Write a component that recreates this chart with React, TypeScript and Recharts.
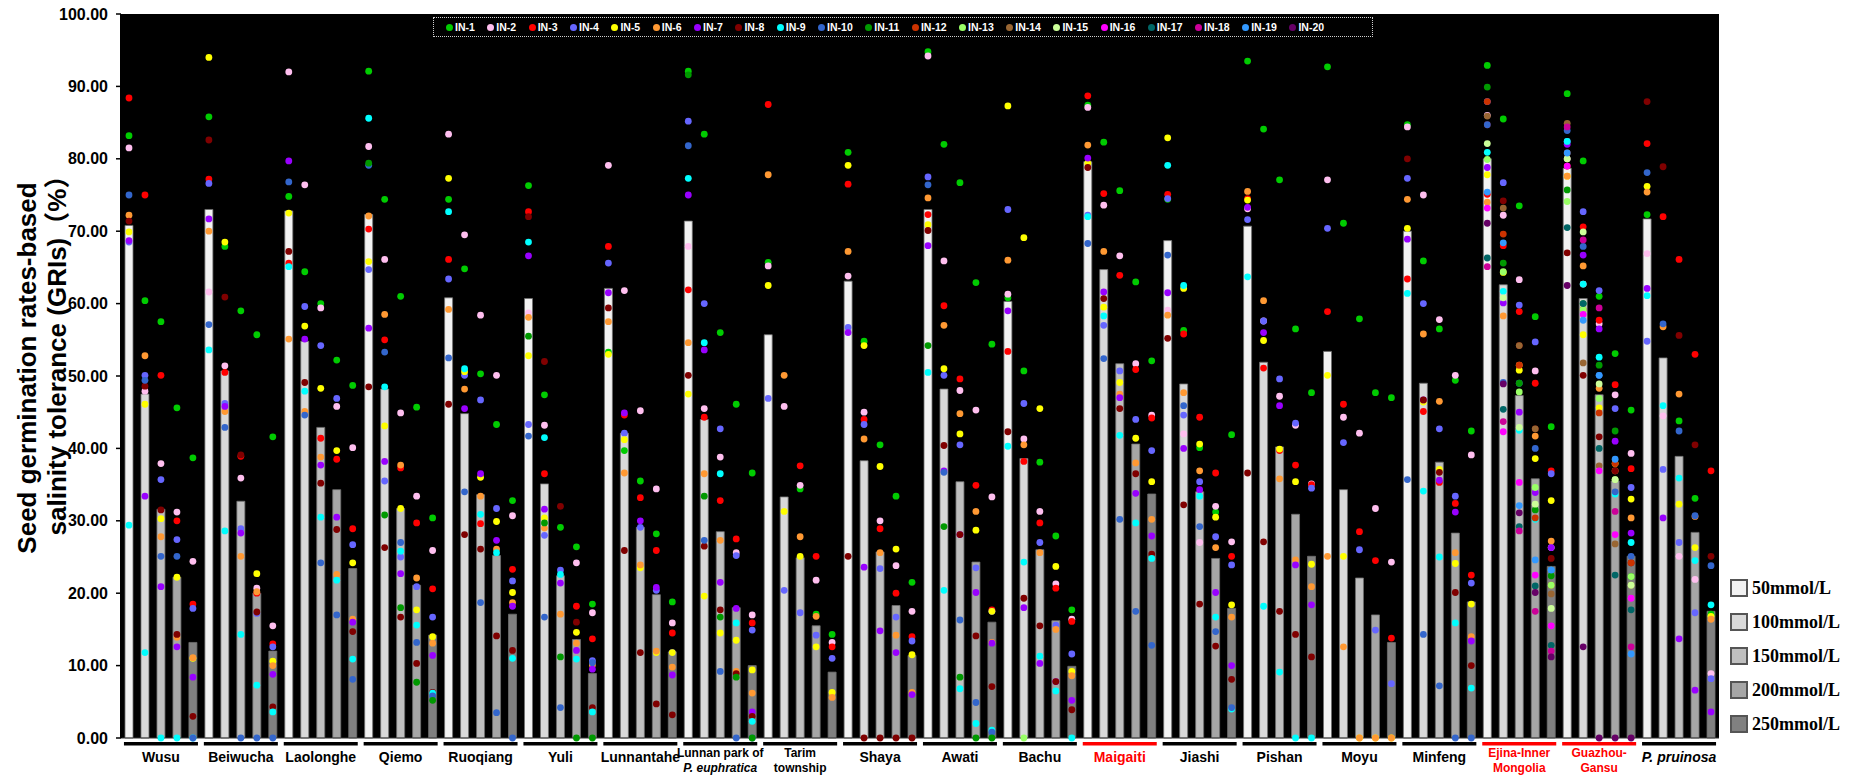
import { ComposedChart, Bar, Scatter, XAxis, YAxis, CartesianGrid, Cell } from 'recharts';

const FONT = "'Liberation Sans', Arial, 'Noto Sans CJK SC', sans-serif";
const SERIF = "'Liberation Serif', 'Times New Roman', serif";

const SITES = [
  'Wusu', 'Beiwucha', 'Laolonghe', 'Qiemo', 'Ruoqiang', 'Yuli', 'Lunnantahe',
  'Lunnan park of P. euphratica', 'Tarim township', 'Shaya', 'Awati', 'Bachu', 'Maigaiti',
  'Jiashi', 'Pishan', 'Moyu', 'Minfeng', 'Ejina-Inner Mongolia', 'Guazhou-Gansu', 'P. pruinosa',
];
// how each site name breaks under the axis
const SITE_LINES: string[][] = [
  ['Wusu'], ['Beiwucha'], ['Laolonghe'], ['Qiemo'], ['Ruoqiang'], ['Yuli'], ['Lunnantahe'],
  ['Lunnan park of', 'P. euphratica'], ['Tarim', 'township'], ['Shaya'], ['Awati'], ['Bachu'],
  ['Maigaiti'], ['Jiashi'], ['Pishan'], ['Moyu'], ['Minfeng'], ['Ejina-Inner', 'Mongolia'],
  ['Guazhou-', 'Gansu'], ['P. pruinosa'],
];
const ITALIC_LINES = ['P. euphratica', 'P. pruinosa'];
const RED_SITES = [12, 17, 18];

const CONCS = ['50mmol/L', '100mmol/L', '150mmol/L', '200mmol/L', '250mmol/L'];
const CONC_COLORS = ['#f2f2f2', '#d9d9d9', '#bfbfbf', '#a6a6a6', '#808080'];

const IN_NAMES = Array.from({ length: 20 }, (_, i) => `IN-${i + 1}`);
const IN_COLORS = [
  '#00cc00', '#ffbfef', '#ff0000', '#6666ff', '#ffff00', '#ff9933', '#9900ff', '#800000', '#00ffff', '#3366cc',
  '#009900', '#cc3300', '#99ff66', '#996633', '#ccff99', '#ff00ff', '#006666', '#cc0099', '#3399ff', '#660066',
];

const Y_TICKS = [0, 10, 20, 30, 40, 50, 60, 70, 80, 90, 100];

// mean GRI per site, 50 -> 250 mmol/L
const GRI: number[][] = [
  [70.8, 47.5, 31.6, 22.2, 13.2],
  [73.0, 50.7, 32.7, 20.0, 12.0],
  [72.8, 54.8, 42.9, 34.3, 23.4],
  [72.3, 48.2, 31.7, 21.1, 14.2],
  [60.8, 44.8, 33.6, 25.2, 17.1],
  [60.7, 35.1, 22.4, 13.6, 8.9],
  [62.1, 42.1, 29.1, 19.8, 11.9],
  [71.4, 44.0, 28.5, 18.0, 10.0],
  [55.7, 33.3, 24.9, 15.5, 9.1],
  [63.1, 38.3, 25.7, 18.3, 11.4],
  [73.0, 48.2, 35.4, 24.3, 16.0],
  [60.3, 38.6, 26.0, 16.2, 9.9],
  [79.6, 64.7, 51.7, 40.6, 33.7],
  [68.7, 48.9, 34.0, 24.8, 17.9],
  [70.7, 51.9, 40.2, 30.9, 25.1],
  [53.4, 34.3, 22.1, 17.0, 13.2],
  [70.0, 49.0, 38.1, 28.3, 18.8],
  [80.0, 62.6, 47.3, 35.8, 23.7],
  [78.7, 60.7, 47.4, 35.5, 25.1],
  [71.7, 52.5, 38.9, 28.4, 17.5],
];

// individual values: one row per concentration, one entry per individual (IN-1, IN-2, ...)
const DOTS_WUSU = [
  [83.2, 81.5, 88.4, 68.5, 69.9, 72.2, 68.7, 71.4, 29.4, 75.0],
  [60.4, 47.9, 75.0, 50.1, 46.1, 52.8, 33.4, 48.6, 11.8, 49.4],
  [57.5, 37.9, 50.1, 35.7, 30.3, 27.8, 20.9, 31.5, 0, 25.1],
  [45.6, 31.2, 30.0, 27.4, 22.2, 13.9, 12.6, 14.3, 0, 25.1],
  [38.7, 24.4, 18.5, 17.9, 11.0, 11.1, 8.4, 3.0, 0, 0],
];
const DOTS_BEIWUCHA = [
  [85.8, 61.6, 77.2, 76.6, 94.0, 70.0, 71.7, 82.6, 53.6, 57.1],
  [67.9, 51.4, 50.5, 46.2, 68.5, 45.1, 45.8, 60.9, 28.6, 42.9],
  [59.0, 35.9, 38.9, 28.9, null, 25.1, 28.3, 39.1, 14.3, 0],
  [55.7, 20.7, 20.0, 17.2, 22.7, 20.2, null, 17.4, 7.3, 0],
  [41.6, 15.5, 13.0, 12.6, 10.6, 10.0, 8.8, 4.3, 3.6, 0],
];
const DOTS_LAOLONGHE = [
  [74.8, 92.0, 65.6, null, 72.5, 55.1, 79.7, 67.2, 65.1, 76.8],
  [64.4, 76.4, null, 59.6, 56.9, 45.1, 55.1, 49.1, 47.9, 44.6],
  [60.0, 59.4, 41.4, 54.2, 48.3, 38.8, 37.7, 35.2, 30.5, 24.2],
  [52.2, 45.8, 38.5, 46.9, 39.7, 22.6, 30.5, 28.8, 21.8, 17.0],
  [48.7, 40.1, 28.9, 26.7, 24.2, 16.4, 16.0, 14.7, 10.9, 8.1],
];
const DOTS_QIEMO = [
  [92.1, 81.7, 70.3, 64.7, 65.8, 72.1, 56.6, 48.5, 85.6, 79.1, 79.4],
  [74.4, 66.1, 55.0, 35.5, 43.1, 58.5, 38.2, 26.3, 48.5, 53.3, 30.8],
  [61.0, 44.9, 37.3, 25.0, 31.7, 37.7, 22.7, 16.7, 25.8, 27.0, 18.0],
  [45.7, 33.4, 29.7, 20.9, 17.7, 22.1, null, 10.3, 15.6, 13.2, 7.7],
  [30.4, 25.9, 20.6, 16.7, 14.0, 13.1, 11.4, 6.3, 6.2, 5.8, 5.2],
];
const DOTS_RUOQIANG = [
  [74.4, 83.4, 66.1, 63.4, 77.3, 59.2, null, 46.1, 72.7, 52.5],
  [64.8, 69.5, null, 50.1, 50.6, 48.2, 45.5, 28.1, 51.0, 34.0],
  [50.3, 58.4, 29.6, 46.7, 36.0, 33.4, 36.5, 26.1, 30.9, 18.7],
  [43.3, 50.1, null, 31.7, 29.9, 26.1, 27.3, 14.1, 25.6, 3.5],
  [32.8, 30.7, 23.3, 21.7, 20.1, 18.7, 18.2, 12.1, 11.0, 0],
];
const DOTS_YULI = [
  [76.3, 58.7, 72.7, 43.3, 52.8, 58.1, 66.6, 72.0, 68.5, 41.7, 55.5],
  [47.4, 43.2, 36.5, 28.0, 30.4, 29.0, 31.6, 52.0, 41.5, 16.7, 29.7],
  [29.1, null, null, 23.2, null, 17.1, 21.4, 32.0, 22.6, 4.2, 11.2],
  [26.4, 24.2, 18.2, null, 14.6, 13.1, 12.1, 16.0, 10.9, null, 0],
  [18.5, 17.3, 13.7, 10.7, null, 10.1, 9.5, 4.2, 3.6, 10.4, 0],
];
const DOTS_LUNNANTAHE = [
  [53.3, 79.1, 67.9, 65.6, 53.0, 57.5, 61.5, 59.4],
  [39.7, 61.8, 44.6, 42.1, 41.2, 36.6, 44.9, 25.9],
  [35.5, 45.2, 33.2, 29.1, 23.5, 23.9, 30.0, 11.8],
  [28.2, 34.4, 25.9, 20.4, 11.8, 12.0, 20.8, 4.7],
  [18.8, 15.9, 14.5, 11.8, 11.8, 9.8, 8.7, 3.2],
];
const DOTS_LUNNAN_PARK = [
  [92.1, 67.9, 61.9, 85.2, 47.5, 54.6, 75.0, 50.1, 77.3, 81.8, 91.6],
  [83.4, 45.5, 44.3, 60.0, 19.6, 36.5, 53.6, 26.5, 54.6, 27.3, 33.4],
  [56.0, 38.8, 32.8, 42.7, 14.5, 27.3, 21.5, 17.7, 36.5, 9.2, 16.7],
  [46.1, 25.6, 27.5, 25.2, 13.5, 9.2, 17.9, 8.9, 15.9, 0, 8.4],
  [36.6, 17.0, 15.9, 14.9, 9.4, 6.2, 3.6, 3.0, 2.3, 0, 0],
];
const DOTS_TARIM = [
  [65.7, 65.2, 87.5, 46.9, 62.5, 77.8],
  [null, 45.8, null, 20.4, 31.3, 50.1],
  [34.4, 34.9, 37.6, 17.3, 25.1, 27.8],
  [17.1, 21.8, 25.1, 14.2, 12.6, 16.8],
  [14.3, 13.2, 12.6, 11.0, 6.3, 5.6],
];
const DOTS_SHAYA = [
  [80.9, 63.8, 76.5, 56.7, 79.1, 67.2, 56.0, 25.1],
  [54.8, 45.0, 44.0, 43.3, 54.2, 41.3, 23.6, 0],
  [40.5, 30.0, 28.9, 23.4, 37.5, 25.6, 14.8, 0],
  [33.4, 23.8, 20.0, 16.7, 26.1, 14.2, 11.8, 0],
  [21.5, 17.5, 14.0, 13.4, 11.5, 6.3, 6.0, 0],
];
const DOTS_AWATI = [
  [94.8, 94.2, 72.3, 77.5, 70.9, 74.6, 68.0, 70.1, 50.5, 76.4, 54.2],
  [82.0, 65.9, 59.7, 50.1, 51.0, 57.0, 36.9, 40.4, 20.4, 36.7, 29.2],
  [76.7, 48.0, 49.6, 40.5, 42.0, 44.8, 28.1, 28.1, 6.8, 16.3, 8.4],
  [62.9, 45.3, 34.9, 23.5, 28.7, 31.3, 20.1, 14.1, 2.0, 4.9, 0],
  [54.4, 33.3, 17.7, 17.5, 17.5, 13.2, 13.1, 7.1, 1.1, 0.8, 0],
];
const DOTS_BACHU = [
  [60.8, 61.3, 53.4, 73.0, 87.3, 66.0, 59.0, 42.3, 40.3],
  [50.7, 41.3, 38.2, 46.2, 69.1, 40.5, 18.0, 19.3, 24.3, null, null, null, 0],
  [38.1, 31.3, 29.7, 27.0, 45.5, 25.6, 10.3, 15.5, 11.3],
  [27.9, 21.3, 20.7, 15.6, 23.7, 15.0, 7.8, 7.8, 6.5],
  [17.7, 16.4, 16.1, 11.6, 9.2, 8.6, 5.2, 3.9, 0],
];
const DOTS_MAIGAITI = [
  [87.4, 87.1, 88.7, 72.2, 79.4, 81.9, 80.1, 78.8, 72.0, 68.3],
  [82.3, 73.6, 75.2, 57.0, 59.5, 67.2, 61.6, 60.7, 58.3, 52.4],
  [75.6, 66.6, 63.9, 50.7, 49.1, 47.5, 47.0, 45.5, 41.8, 30.2],
  [63.0, 51.7, 50.9, 44.0, 41.4, 38.0, 33.8, 36.5, 29.7, 17.5],
  [52.1, 44.6, 44.2, 39.7, 35.4, 30.2, 27.9, 25.4, 24.8, 12.8],
];
const DOTS_JIASHI = [
  [74.4, 59.1, 75.1, 74.5, 82.9, 58.4, 61.5, 55.2, 79.1, 66.7],
  [56.3, 42.0, 55.8, 44.6, 62.1, 47.7, 40.0, 32.2, 62.5, 45.9],
  [40.1, 27.0, 44.3, 35.4, 40.6, 36.9, 34.3, 18.5, 33.4, 29.2],
  [31.2, 32.0, 36.6, 27.8, 30.5, 26.3, 20.1, 12.7, 16.7, 14.7],
  [41.9, 27.1, 25.1, 23.9, 18.4, 16.7, 10.0, 8.1, 4.0, 4.2],
];
const DOTS_PISHAN = [
  [93.5, 73.1, 74.5, 71.6, 74.3, 75.5, 73.3, 36.6, 63.7],
  [84.1, 57.6, 51.1, 57.6, 54.9, 60.4, 56.0, 27.1, 18.2],
  [77.1, 47.2, 39.7, 49.6, 39.9, 35.8, 45.9, 17.5, 9.1],
  [56.5, 43.2, 37.7, 43.5, 35.4, 24.6, 23.9, 14.3, 0],
  [47.7, 35.1, 35.0, 34.5, 24.0, 20.9, 18.4, 11.2, 0],
];
const DOTS_MOYU = [
  [92.7, 77.1, 58.9, 70.4, 50.1, 25.1],
  [71.1, 44.3, 46.1, 40.8, 25.1, 12.6],
  [57.9, 42.1, 28.5, 26.0, 0, 0],
  [47.7, 31.7, 24.5, 14.9, 0, 0],
  [47.0, 24.3, 13.8, 7.5, 0, 0],
];
const DOTS_MINFENG = [
  [84.7, 84.4, 63.4, 77.3, 70.4, 74.4, 68.9, 80.0, 61.4, 35.7],
  [65.9, 75.0, 45.1, 60.0, 46.4, 55.8, 46.7, 46.7, 34.1, 14.3],
  [56.5, 57.8, 35.3, 42.7, 37.1, 46.5, 35.6, 36.7, 25.0, 7.2],
  [49.4, 50.1, 32.4, 33.4, 24.1, 25.6, 31.2, 20.1, 15.9, 0],
  [42.4, 39.1, 22.5, 21.4, 18.5, 14.0, 13.4, 10.0, 6.9, 0],
];
const DOTS_EJINA = [
  [92.9, 86.0, 75.1, 87.9, 77.8, 74.0, 78.8, 84.7, 80.9, 84.7, 89.9, 87.9, 79.9, 85.9, 82.1, 73.2, 66.3, 65.1, 75.4, 71.1],
  [85.5, 72.2, 68.0, 76.7, 64.3, 58.3, 60.1, 74.2, 61.7, 49.1, 65.6, 69.6, 64.4, 73.2, 60.8, 42.3, 45.4, 43.7, 68.4, 48.9],
  [73.5, 63.3, 58.9, 59.8, 50.8, 51.5, 45.0, 54.2, 42.5, 49.0, 49.0, 51.5, 47.8, 54.2, 42.9, 35.3, 29.2, 28.6, 32.1, 31.1],
  [58.2, 50.7, 49.0, 54.7, 38.6, 41.7, 33.9, 42.7, 30.2, 40.0, 31.5, 30.4, 34.6, 42.7, 32.3, 22.5, 21.0, 17.5, 24.6, 20.1],
  [43.0, 26.3, 36.9, 36.5, 32.8, 27.2, 26.3, 24.8, 23.2, 23.2, 22.4, 21.1, 21.1, 19.9, 17.9, 15.5, 12.8, 12.0, 23.2, 11.2],
];
const DOTS_GUAZHOU = [
  [89.0, 80.0, 79.0, 82.4, 77.6, 77.6, 82.0, 67.0, 82.4, 83.9, 75.7, 80.8, 74.1, 84.9, 80.0, 79.0, 70.5, 84.4, 80.8, 62.5],
  [79.7, 62.7, 70.6, 72.7, 55.7, 65.2, 66.7, 50.1, 62.7, 67.9, 60.0, 59.2, 59.2, 51.8, 69.9, 58.5, 60.0, 68.8, 57.7, 12.6],
  [61.0, 57.2, 57.7, 61.8, 45.6, 48.3, 56.5, 41.6, 52.6, 50.1, 51.5, 44.9, 46.9, 37.6, 48.9, 36.9, 40.0, 59.4, 50.1, 0],
  [53.1, 47.4, 48.8, 45.5, 37.9, 36.9, 41.0, 36.9, 33.7, 34.0, 42.4, 37.9, 35.7, 26.8, 35.7, 28.1, 22.5, 31.3, 38.5, 0],
  [45.3, 39.3, 37.2, 34.6, 33.0, 30.4, 28.3, 24.2, 27.0, 25.1, 22.3, 24.2, 22.3, 21.1, 21.1, 19.3, 17.7, 12.6, 11.6, 0],
];
const DOTS_PRUINOSA = [
  [72.3, 66.9, 82.1, 54.8, 76.2, 75.4, 62.1, 87.9, 61.1, 78.1],
  [null, 44.5, 72.0, 37.1, null, 56.8, 30.4, 78.9, 45.9, 57.2],
  [43.8, 25.1, 66.1, 27.0, 32.3, 47.5, 13.7, 55.6, 35.9, 42.4],
  [33.1, 21.9, 53.0, 17.3, 26.3, 30.6, 6.6, 40.5, 24.5, 30.7],
  [17.1, 8.9, 36.9, 8.2, 16.8, 16.4, 3.6, 25.1, 18.4, 23.8],
];

const DOTS: (number | null)[][][] = [
  DOTS_WUSU, DOTS_BEIWUCHA, DOTS_LAOLONGHE, DOTS_QIEMO, DOTS_RUOQIANG, DOTS_YULI, DOTS_LUNNANTAHE,
  DOTS_LUNNAN_PARK, DOTS_TARIM, DOTS_SHAYA, DOTS_AWATI, DOTS_BACHU, DOTS_MAIGAITI, DOTS_JIASHI,
  DOTS_PISHAN, DOTS_MOYU, DOTS_MINFENG, DOTS_EJINA, DOTS_GUAZHOU, DOTS_PRUINOSA,
];

// one row per bar (site x concentration)
const rows = SITES.flatMap((_, s) =>
  CONCS.map((__, c) => {
    const row: Record<string, any> = { key: `${s}-${c}`, s, c, gri: GRI[s][c] };
    DOTS[s][c].forEach((v, i) => {
      if (v != null) row[`in${i + 1}`] = v;
    });
    return row;
  })
);

function SiteTick({ x, y, payload }: any) {
  const [s, c] = String(payload.value).split('-').map(Number);
  if (c !== 2) return null;
  const color = RED_SITES.includes(s) ? '#ff0000' : '#000';
  const lines = SITE_LINES[s];
  const two = lines.length > 1;
  return (
    <g>
      <rect x={x - 37} y={y + 4} width={74} height={3.5} fill={color} />
      {lines.map((t, i) => (
        <text
          key={t}
          x={x}
          y={y + (two ? 19 + i * 14.5 : 24)}
          textAnchor="middle"
          fill={color}
          fontSize={two ? 12 : 14}
          fontWeight="bold"
          fontStyle={ITALIC_LINES.includes(t) ? 'italic' : 'normal'}
          fontFamily={FONT}
        >
          {t}
        </text>
      ))}
    </g>
  );
}

const renderDot = (p: any, color: string) => {
  if (p.cy == null || Number.isNaN(p.cy) || p.cx == null) return <g />;
  return <circle cx={p.cx} cy={p.cy} r={3.4} fill={color} />;
};

export default function App() {
  return (
    <div style={{ position: 'absolute', left: 0, top: 0, width: 1854, height: 777, background: '#fff', fontFamily: FONT }}>
      <ComposedChart width={1854} height={777} data={rows} margin={{ top: 14, right: 135, bottom: 0, left: 41 }}>
        <CartesianGrid fill="#000" stroke="none" horizontal={false} vertical={false} />
        <XAxis
          dataKey="key"
          type="category"
          interval={0}
          height={39}
          tickLine={false}
          tickSize={0}
          tickMargin={0}
          axisLine={{ stroke: '#333', strokeWidth: 1 }}
          tick={<SiteTick />}
        />
        <YAxis
          type="number"
          domain={[0, 100]}
          ticks={Y_TICKS}
          width={80}
          tickSize={5}
          tickMargin={8}
          tickFormatter={(v: number) => v.toFixed(2)}
          axisLine={{ stroke: '#000', strokeWidth: 2 }}
          tickLine={{ stroke: '#000', strokeWidth: 1.5 }}
          tick={{ fill: '#000', fontSize: 16, fontWeight: 'bold', fontFamily: FONT }}
        />
        <Bar dataKey="gri" barSize={8} stroke="#6e6e6e" strokeWidth={0.8} isAnimationActive={false}>
          {rows.map((r) => (
            <Cell key={r.key} fill={CONC_COLORS[r.c]} />
          ))}
        </Bar>
        {IN_COLORS.map((color, i) => (
          <Scatter
            key={IN_NAMES[i]}
            name={IN_NAMES[i]}
            dataKey={`in${i + 1}`}
            fill={color}
            isAnimationActive={false}
            shape={(p: any) => renderDot(p, color)}
          />
        ))}
      </ComposedChart>

      {/* individuals legend inside the plot */}
      <div
        style={{
          position: 'absolute', left: 433, top: 17, width: 940, height: 20, boxSizing: 'border-box',
          border: '1px dotted #cfcfcf', display: 'flex', alignItems: 'center', paddingLeft: 12,
        }}
      >
        {IN_NAMES.map((name, i) => (
          <div key={name} style={{ display: 'flex', alignItems: 'center', marginRight: 12.5 }}>
            <span style={{ width: 7, height: 7, borderRadius: '50%', background: IN_COLORS[i], marginRight: 2 }} />
            <span style={{ color: '#fff', fontWeight: 'bold', fontSize: 10.5, lineHeight: '12px' }}>{name}</span>
          </div>
        ))}
      </div>

      {/* y axis title */}
      <div
        style={{
          position: 'absolute', left: 27, top: 368, transform: 'translate(-50%,-50%) rotate(-90deg)',
          whiteSpace: 'nowrap', fontSize: 26, fontWeight: 'bold', lineHeight: 1,
        }}
      >
        Seed germination rates-based
      </div>
      <div
        style={{
          position: 'absolute', left: 57, top: 349, transform: 'translate(-50%,-50%) rotate(-90deg)',
          whiteSpace: 'nowrap', fontSize: 26, fontWeight: 'bold', lineHeight: 1,
        }}
      >
        salinity tolerance (GRIs)（%）
      </div>

      {/* concentration legend */}
      {CONCS.map((label, i) => (
        <div
          key={label}
          style={{ position: 'absolute', left: 1730, top: 577.5 + i * 34, display: 'flex', alignItems: 'center', height: 21 }}
        >
          <div style={{ width: 14, height: 14, border: '2px solid #555', background: CONC_COLORS[i] }} />
          <span style={{ marginLeft: 4, fontFamily: SERIF, fontWeight: 'bold', fontSize: 18, lineHeight: '21px' }}>
            {label}
          </span>
        </div>
      ))}
    </div>
  );
}
